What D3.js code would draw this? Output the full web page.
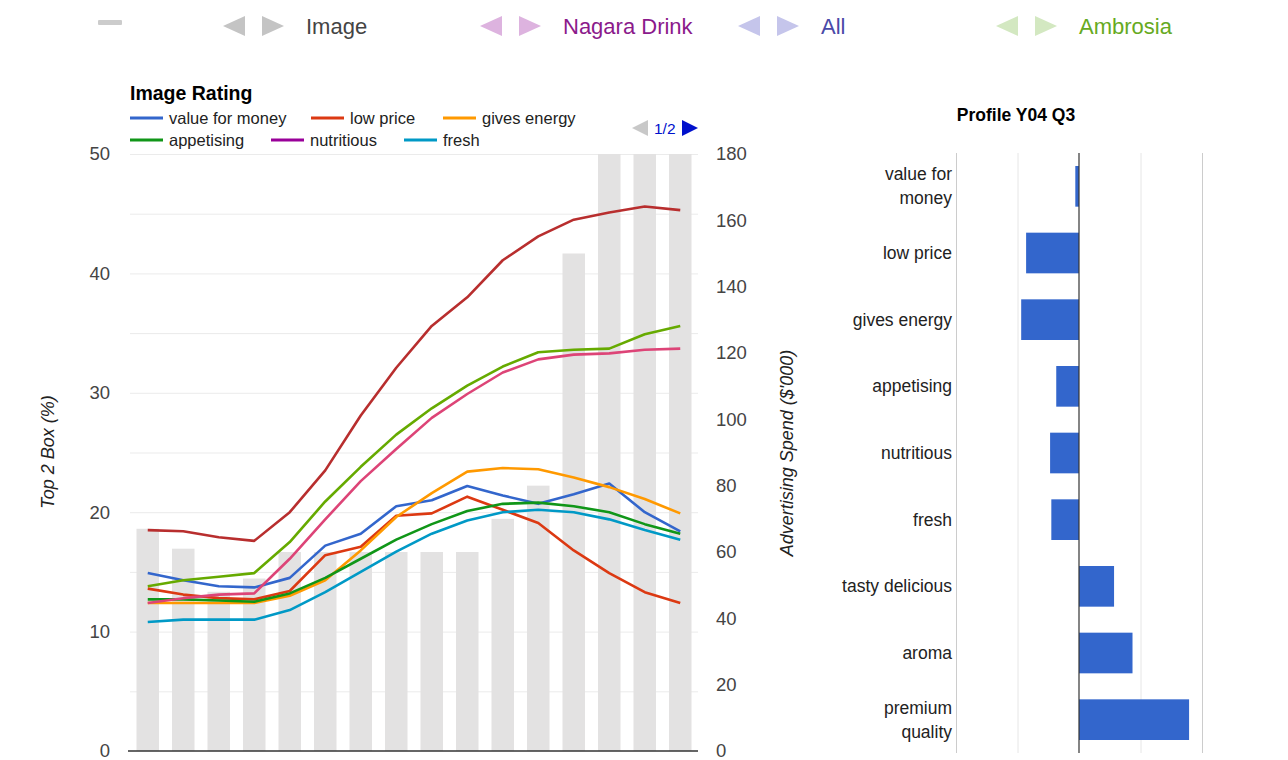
<!DOCTYPE html>
<html>
<head>
<meta charset="utf-8">
<script src="https://cdn.jsdelivr.net/npm/d3@7"></script>
<style>
  body { margin: 0; background: #fff; }
  svg { font-family: Arial, "Liberation Sans", sans-serif; display: block; }
</style>
</head>
<body>
<svg id="chart" width="1288" height="760"></svg>
<script>
// quarters shown on the left chart (no tick labels in the picture)
const periods = ['Y00 Q4','Y01 Q1','Y01 Q2','Y01 Q3','Y01 Q4','Y02 Q1','Y02 Q2','Y02 Q3',
    'Y02 Q4','Y03 Q1','Y03 Q2','Y03 Q3','Y03 Q4','Y04 Q1','Y04 Q2','Y04 Q3'];

const adSpend = [67, 61, 48, 52, 60, 60, 60, 60, 60, 60, 70, 80, 150, 180, 180, 180];

const valueForMoney  = [14.9, 14.3, 13.8, 13.7, 14.5, 17.2, 18.2, 20.5, 21.0, 22.2, 21.4, 20.7, 21.5, 22.4, 20.0, 18.4];
const lowPrice       = [13.6, 13.1, 12.8, 12.7, 13.4, 16.4, 17.1, 19.7, 19.9, 21.3, 20.2, 19.1, 16.8, 14.9, 13.3, 12.4];
const givesEnergy    = [12.4, 12.4, 12.4, 12.4, 13.0, 14.3, 16.8, 19.6, 21.6, 23.4, 23.7, 23.6, 22.9, 22.1, 21.1, 19.9];
const appetising     = [12.7, 12.7, 12.6, 12.5, 13.2, 14.5, 16.1, 17.7, 19.0, 20.1, 20.7, 20.8, 20.5, 20.0, 19.0, 18.2];
const nutritious     = []; // no purple line is visible in the reference
const fresh          = [10.8, 11.0, 11.0, 11.0, 11.8, 13.3, 15.0, 16.7, 18.2, 19.3, 20.0, 20.2, 20.0, 19.4, 18.5, 17.7];
const tastyDelicious = [12.4, 12.8, 13.1, 13.2, 16.1, 19.4, 22.6, 25.3, 27.9, 29.9, 31.7, 32.8, 33.2, 33.3, 33.6, 33.7];
const aroma          = [13.8, 14.3, 14.6, 14.9, 17.5, 20.9, 23.8, 26.5, 28.7, 30.6, 32.2, 33.4, 33.6, 33.7, 34.9, 35.6];
const premiumQuality = [18.5, 18.4, 17.9, 17.6, 20.0, 23.5, 28.1, 32.1, 35.6, 38.0, 41.1, 43.1, 44.5, 45.1, 45.6, 45.3];

const seriesNames = ['value for money','low price','gives energy','appetising','nutritious','fresh',
    'tasty delicious','aroma','premium quality'];
const seriesValues = [valueForMoney, lowPrice, givesEnergy, appetising, nutritious, fresh,
    tastyDelicious, aroma, premiumQuality];
const seriesColors = ['#3366cc','#dc3912','#ff9900','#109618','#990099','#0099c6',
    '#dd4477','#66aa00','#b82e2e'];

const leftTicks = [0, 10, 20, 30, 40, 50];
const rightTicks = [0, 20, 40, 60, 80, 100, 120, 140, 160, 180];

// profile chart on the right
const profileLabels = ['value for money','low price','gives energy','appetising','nutritious','fresh',
    'tasty delicious','aroma','premium quality'];
const profileValues = [-0.06, -0.86, -0.94, -0.37, -0.47, -0.45, 0.57, 0.87, 1.79];

// top menu
const menuNames = ['Image', 'Nagara Drink', 'All', 'Ambrosia'];
const menuTextColors = ['#444444', '#8b1a8b', '#4a4aa8', '#66aa22'];
const menuArrowColors = ['#c4c4c4', '#ddb3df', '#c5c5eb', '#d3e8c1'];
const menuX = [306, 563, 821, 1079];

const svg = d3.select('#chart');

// ---- top menu ----
svg.append('rect').attr('x', 98).attr('y', 20).attr('width', 24).attr('height', 5)
    .attr('rx', 1).attr('fill', '#cccccc');

menuNames.forEach((name, i) => {
    const x0 = menuX[i];
    svg.append('path')
        .attr('d', `M${x0 - 83},26 L${x0 - 61},16 L${x0 - 61},36 Z`)
        .attr('fill', menuArrowColors[i]);
    svg.append('path')
        .attr('d', `M${x0 - 44},16 L${x0 - 22},26 L${x0 - 44},36 Z`)
        .attr('fill', menuArrowColors[i]);
    svg.append('text')
        .attr('x', x0).attr('y', 34)
        .attr('font-size', 22)
        .attr('fill', menuTextColors[i])
        .text(name);
});

// ---- left combo chart ----
const x = d3.scaleBand()
    .domain(periods)
    .range([130, 698])
    .paddingInner(0.366)
    .paddingOuter(0.183);

const yLeft = d3.scaleLinear().domain([0, 50]).range([751, 154]);
const yRight = d3.scaleLinear().domain([0, 180]).range([751, 154]);

// gridlines every 5
svg.append('g')
    .attr('transform', 'translate(130,0)')
    .call(d3.axisLeft(yLeft).tickValues(d3.range(5, 51, 5)).tickSize(-568).tickFormat(''))
    .call(g => g.select('.domain').remove())
    .call(g => g.selectAll('line').attr('stroke', '#ebebeb'));

// advertising spend bars
svg.append('g')
    .selectAll('rect')
    .data(adSpend)
    .join('rect')
    .attr('x', (d, i) => x(periods[i]))
    .attr('y', d => yRight(Math.min(d, 180)))
    .attr('width', x.bandwidth())
    .attr('height', d => yRight(0) - yRight(Math.min(d, 180)))
    .attr('fill', '#e3e2e2');

// baseline
svg.append('line')
    .attr('x1', 128).attr('x2', 698)
    .attr('y1', yLeft(0)).attr('y2', yLeft(0))
    .attr('stroke', '#333').attr('stroke-width', 1.5);

// rating lines
const line = d3.line()
    .x((d, i) => x(periods[i]) + x.bandwidth() / 2)
    .y(d => yLeft(d));

seriesValues.forEach((vals, k) => {
    if (!vals.length) return;
    svg.append('path')
        .attr('d', line(vals))
        .attr('fill', 'none')
        .attr('stroke', seriesColors[k])
        .attr('stroke-width', 2.6)
        .attr('stroke-linejoin', 'round');
});

// left axis
svg.append('g')
    .attr('transform', 'translate(110,0)')
    .call(d3.axisLeft(yLeft).tickValues(leftTicks).tickSize(0).tickPadding(0))
    .call(g => g.select('.domain').remove())
    .call(g => g.selectAll('text').attr('font-size', 18.5).attr('fill', '#444')
        .attr('font-family', 'Arial, "Liberation Sans", sans-serif'));

// right axis
svg.append('g')
    .attr('transform', 'translate(716,0)')
    .call(d3.axisRight(yRight).tickValues(rightTicks).tickSize(0).tickPadding(0))
    .call(g => g.select('.domain').remove())
    .call(g => g.selectAll('text').attr('font-size', 18.5).attr('fill', '#444')
        .attr('font-family', 'Arial, "Liberation Sans", sans-serif'));

svg.append('text')
    .attr('transform', 'translate(54,452) rotate(-90)')
    .attr('text-anchor', 'middle')
    .attr('font-size', 18).attr('font-style', 'italic').attr('fill', '#222')
    .text('Top 2 Box (%)');

svg.append('text')
    .attr('transform', 'translate(793,453) rotate(-90)')
    .attr('text-anchor', 'middle')
    .attr('font-size', 18).attr('font-style', 'italic').attr('fill', '#222')
    .text("Advertising Spend ($'000)");

// title + legend
svg.append('text')
    .attr('x', 130).attr('y', 100)
    .attr('font-size', 19.5).attr('font-weight', 'bold').attr('fill', '#000')
    .text('Image Rating');

const legendX = [130, 311, 443, 130, 271, 404];
const legendY = [118, 118, 118, 140, 140, 140];
seriesNames.slice(0, 6).forEach((name, k) => {
    const g = svg.append('g').attr('transform', `translate(${legendX[k]},${legendY[k]})`);
    g.append('line').attr('x1', 0).attr('x2', 33).attr('y1', 0).attr('y2', 0)
        .attr('stroke', seriesColors[k]).attr('stroke-width', 3);
    g.append('text').attr('x', 39).attr('y', 6)
        .attr('font-size', 16.5).attr('fill', '#222').text(name);
});

// pager
svg.append('path').attr('d', 'M632,128 L648,120 L648,136 Z').attr('fill', '#c8c8c8');
svg.append('text').attr('x', 654).attr('y', 134).attr('font-size', 15.5).attr('fill', '#0011cc').text('1/2');
svg.append('path').attr('d', 'M682,120 L698,128 L682,136 Z').attr('fill', '#0011cc');

// ---- right profile chart ----
const px = d3.scaleLinear().domain([-2, 2]).range([956, 1202]);
const py = d3.scaleBand().domain(profileLabels).range([153, 753]).paddingInner(0.39).paddingOuter(0.195);

svg.append('text')
    .attr('x', 1016).attr('y', 121)
    .attr('text-anchor', 'middle')
    .attr('font-size', 17.5).attr('font-weight', 'bold').attr('fill', '#000')
    .text('Profile Y04 Q3');

svg.append('g')
    .attr('transform', 'translate(0,153)')
    .call(d3.axisBottom(px).tickValues([-2, -1, 1, 2]).tickSize(600).tickFormat(''))
    .call(g => g.select('.domain').remove())
    .call(g => g.selectAll('line').attr('stroke', (d) => Math.abs(d) === 2 ? '#cccccc' : '#e6e6e6'));

svg.append('g')
    .selectAll('rect')
    .data(profileValues)
    .join('rect')
    .attr('x', d => px(Math.min(0, d)))
    .attr('y', (d, i) => py(profileLabels[i]))
    .attr('width', d => Math.abs(px(d) - px(0)))
    .attr('height', py.bandwidth())
    .attr('fill', '#3366cc');

svg.append('line')
    .attr('x1', px(0)).attr('x2', px(0)).attr('y1', 153).attr('y2', 753)
    .attr('stroke', '#333').attr('stroke-width', 1.2);

// category labels, wrapped when too wide
const labels = svg.append('g')
    .selectAll('text')
    .data(profileLabels)
    .join('text')
    .attr('x', 952)
    .attr('y', d => py(d) + py.bandwidth() / 2)
    .attr('text-anchor', 'end')
    .attr('font-size', 17.5)
    .attr('fill', '#222')
    .text(d => d);

labels.each(function (d) {
    const t = d3.select(this);
    if (this.getComputedTextLength() <= 116) {
        t.attr('dy', '0.35em');
        return;
    }
    const words = d.split(' ');
    const last = words.pop();
    const first = words.join(' ');
    const cy = py(d) + py.bandwidth() / 2;
    t.text(null);
    t.append('tspan').attr('x', 952).attr('y', cy - 12).attr('dy', '0.35em').text(first);
    t.append('tspan').attr('x', 952).attr('y', cy + 12).attr('dy', '0.35em').text(last);
});
</script>
</body>
</html>
